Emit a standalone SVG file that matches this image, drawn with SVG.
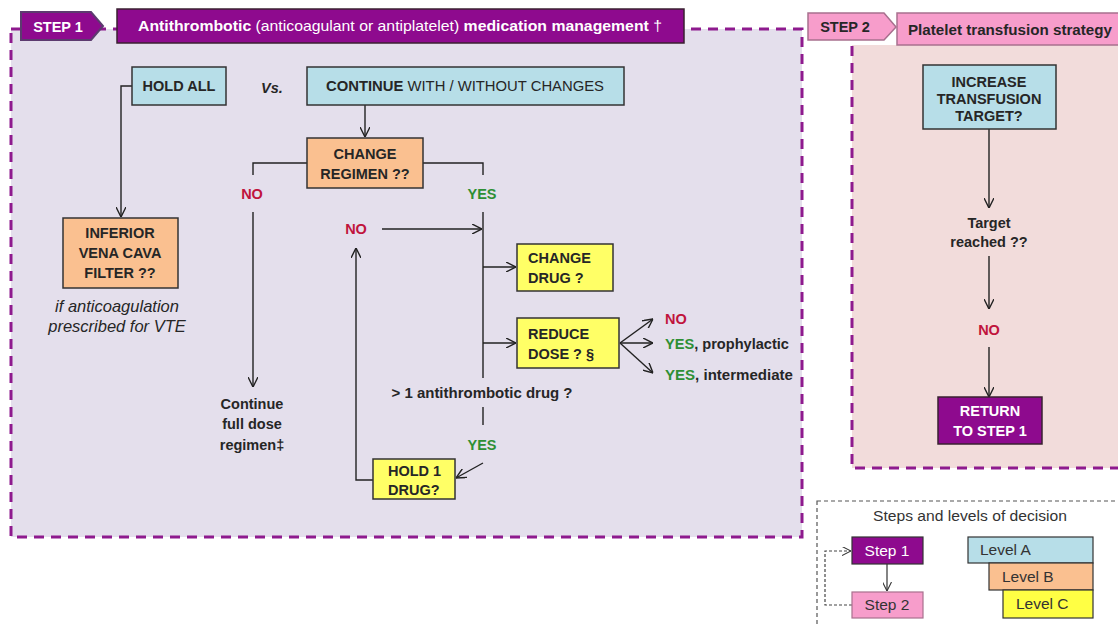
<svg xmlns="http://www.w3.org/2000/svg" width="1118" height="627" viewBox="0 0 1118 627">
<defs>
<marker id="arr" viewBox="0 0 10 10" refX="10" refY="5" markerWidth="10" markerHeight="10" markerUnits="userSpaceOnUse" orient="auto">
<path d="M0,0 L10,5 L0,10" fill="none" stroke="#222" stroke-width="1.4"/>
</marker>
<marker id="arrs" viewBox="0 0 10 10" refX="10" refY="5" markerWidth="9" markerHeight="9" markerUnits="userSpaceOnUse" orient="auto">
<path d="M0,0 L10,5 L0,10" fill="none" stroke="#333" stroke-width="1.2"/>
</marker>
</defs>
<style>
text{font-family:"Liberation Sans",Arial,sans-serif;}
.b{font-weight:bold;font-size:14.5px;fill:#262626;}
.n{font-size:14.5px;fill:#262626;}
.lg{font-size:15.5px;fill:#333;}
.c{text-anchor:middle;}
.red{fill:#c0143c;font-weight:bold;font-size:14.5px;}
.grn{fill:#2e8f34;font-weight:bold;font-size:14.5px;}
.blue{fill:#b7dee8;stroke:#333;stroke-width:1.5;}
.org{fill:#fac090;stroke:#333;stroke-width:1.5;}
.yel{fill:#ffff66;stroke:#333;stroke-width:1.5;}
.pur{fill:#8e0a8e;stroke:#3a2030;stroke-width:1.5;}
.pink{fill:#f79dcb;stroke:#a8708e;stroke-width:1.5;}
.dash{fill:none;stroke:#8e1a8e;stroke-width:3;stroke-dasharray:10 7;}
.ln{fill:none;stroke:#222;stroke-width:1.4;}
</style>

<g id="step1-region">
<rect x="11" y="29" width="791" height="508" fill="#e4dfec"/>
<rect x="11" y="29" width="791" height="508" class="dash"/>
</g>
<g id="step2-region">
<rect x="852" y="45" width="270" height="423" fill="#f2dcdb"/>
<path d="M852,46 V468 H1120" class="dash"/>
</g>

<g id="step1-header">
<polygon points="21,12 91,12 103,26 91,40 21,40" fill="#8e0a8e" stroke="#5c3b6f" stroke-width="2"/>
<text x="58" y="32" class="b c" style="fill:#fff">STEP 1</text>
<rect x="117" y="9" width="567" height="34" class="pur"/>
<text x="400" y="31" class="c" style="font-size:15px;fill:#fff" textLength="524" lengthAdjust="spacingAndGlyphs"><tspan font-weight="bold">Antithrombotic</tspan> (anticoagulant or antiplatelet) <tspan font-weight="bold">medication management</tspan> †</text>
</g>

<g id="step2-header">
<polygon points="808,13 884,13 896,27 884,40 808,40" class="pink"/>
<text x="845" y="32" class="b c">STEP 2</text>
<rect x="897" y="13" width="225" height="32" class="pink"/>
<text x="1010" y="35" class="b c" style="font-size:14.5px" textLength="204" lengthAdjust="spacingAndGlyphs">Platelet transfusion strategy</text>
</g>

<g id="connectors">
<path d="M132,86 H121 V217" class="ln" marker-end="url(#arr)"/>
<path d="M365,105 V137" class="ln" marker-end="url(#arr)"/>
<path d="M307,163 H253 V175" class="ln"/>
<path d="M253,212 V387" class="ln" marker-end="url(#arr)"/>
<path d="M423,163 H483 V175" class="ln"/>
<path d="M483,212 V378" class="ln"/>
<path d="M382,229 H482" class="ln" marker-end="url(#arr)"/>
<path d="M483,267 H516" class="ln" marker-end="url(#arr)"/>
<path d="M483,343 H516" class="ln" marker-end="url(#arr)"/>
<path d="M620,343 L653,319" class="ln" marker-end="url(#arr)"/>
<path d="M620,343 H653" class="ln" marker-end="url(#arr)"/>
<path d="M620,343 L653,373" class="ln" marker-end="url(#arr)"/>
<path d="M483,407 V425" class="ln"/>
<path d="M483,463 L456,478" class="ln" marker-end="url(#arr)"/>
<path d="M373,480 H356 V248" class="ln" marker-end="url(#arr)"/>
<path d="M989,129 V208" class="ln" marker-end="url(#arr)"/>
<path d="M989,256 V309" class="ln" marker-end="url(#arr)"/>
<path d="M989,347 V397" class="ln" marker-end="url(#arr)"/>
</g>

<g id="hold-all">
<rect x="132" y="67" width="94" height="38" class="blue"/>
<text x="179" y="91" class="b c">HOLD ALL</text>
</g>
<g id="vs">
<text x="272" y="93" class="b c" style="font-style:italic">Vs.</text>
</g>
<g id="continue">
<rect x="307" y="67" width="317" height="38" class="blue"/>
<text x="465" y="91" class="n c" textLength="278" lengthAdjust="spacingAndGlyphs"><tspan font-weight="bold">CONTINUE</tspan> WITH / WITHOUT CHANGES</text>
</g>
<g id="ivc-filter">
<rect x="63" y="218" width="115" height="70" class="org"/>
<text x="120" y="238" class="b c">INFERIOR</text>
<text x="120" y="258" class="b c">VENA CAVA</text>
<text x="120" y="278" class="b c">FILTER ??</text>
<text x="117" y="312" class="n c" style="font-style:italic;font-size:16.5px">if anticoagulation</text>
<text x="117" y="332" class="n c" style="font-style:italic;font-size:16.5px">prescribed for VTE</text>
</g>
<g id="change-regimen">
<rect x="307" y="138" width="116" height="50" class="org"/>
<text x="365" y="159" class="b c">CHANGE</text>
<text x="365" y="179" class="b c">REGIMEN ??</text>
</g>
<g id="labels-regimen">
<text x="252" y="199" class="red c">NO</text>
<text x="482" y="199" class="grn c">YES</text>
<text x="356" y="234" class="red c">NO</text>
</g>
<g id="continue-full">
<text x="252" y="409" class="b c">Continue</text>
<text x="252" y="429" class="b c">full dose</text>
<text x="252" y="450" class="b c">regimen‡</text>
</g>
<g id="change-drug">
<rect x="517" y="244" width="96" height="47" class="yel"/>
<text x="528" y="263" class="b">CHANGE</text>
<text x="528" y="283" class="b">DRUG ?</text>
</g>
<g id="reduce-dose">
<rect x="517" y="318" width="102" height="50" class="yel"/>
<text x="528" y="339" class="b">REDUCE</text>
<text x="528" y="359" class="b">DOSE ? §</text>
</g>
<g id="dose-options">
<text x="665" y="324" class="red">NO</text>
<text x="665" y="349" class="b" textLength="124" lengthAdjust="spacingAndGlyphs"><tspan class="grn">YES</tspan>, prophylactic</text>
<text x="665" y="380" class="b" textLength="128" lengthAdjust="spacingAndGlyphs"><tspan class="grn">YES</tspan>, intermediate</text>
</g>
<g id="more-than-one">
<text x="482" y="398" class="b c" textLength="181" lengthAdjust="spacingAndGlyphs">&gt; 1 antithrombotic drug ?</text>
<text x="482" y="450" class="grn c">YES</text>
</g>
<g id="hold-one">
<rect x="373" y="459" width="82" height="40" class="yel"/>
<text x="388" y="476" class="b">HOLD 1</text>
<text x="388" y="495" class="b">DRUG?</text>
</g>

<g id="increase-target">
<rect x="923" y="65" width="133" height="64" class="blue"/>
<text x="989" y="87" class="b c">INCREASE</text>
<text x="989" y="104" class="b c">TRANSFUSION</text>
<text x="989" y="121" class="b c">TARGET?</text>
</g>
<g id="target-reached">
<text x="989" y="228" class="b c">Target</text>
<text x="989" y="247" class="b c">reached ??</text>
<text x="989" y="335" class="red c">NO</text>
</g>
<g id="return-step1">
<rect x="938" y="397" width="104" height="47" class="pur"/>
<text x="990" y="416" class="b c" style="fill:#fff">RETURN</text>
<text x="990" y="436" class="b c" style="fill:#fff">TO STEP 1</text>
</g>

<g id="legend">
<rect x="817" y="501" width="310" height="140" fill="#fff" stroke="#555" stroke-width="1.2" stroke-dasharray="4 3"/>
<text x="970" y="521" class="lg c" textLength="194" lengthAdjust="spacingAndGlyphs">Steps and levels of decision</text>
<path d="M852,605 H825 V551 H851" fill="none" stroke="#444" stroke-width="1.2" stroke-dasharray="3 2" marker-end="url(#arrs)"/>
<path d="M887,564 V591" fill="none" stroke="#333" stroke-width="1.2" marker-end="url(#arrs)"/>
<rect x="852" y="537" width="71" height="27" fill="#8e0a8e" stroke="#333" stroke-width="1.2"/>
<text x="887" y="556" class="lg c" style="fill:#fff">Step 1</text>
<rect x="852" y="592" width="71" height="26" fill="#f79dcb" stroke="#a8708e" stroke-width="1.2"/>
<text x="887" y="610" class="lg c">Step 2</text>
<rect x="968" y="537" width="125" height="26" fill="#b7dee8" stroke="#333" stroke-width="1.2"/>
<text x="980" y="555" class="lg">Level A</text>
<rect x="989" y="563" width="104" height="27" fill="#fac090" stroke="#333" stroke-width="1.2"/>
<text x="1002" y="582" class="lg">Level B</text>
<rect x="1003" y="590" width="90" height="28" fill="#ffff44" stroke="#333" stroke-width="1.2"/>
<text x="1016" y="609" class="lg">Level C</text>
</g>
</svg>
